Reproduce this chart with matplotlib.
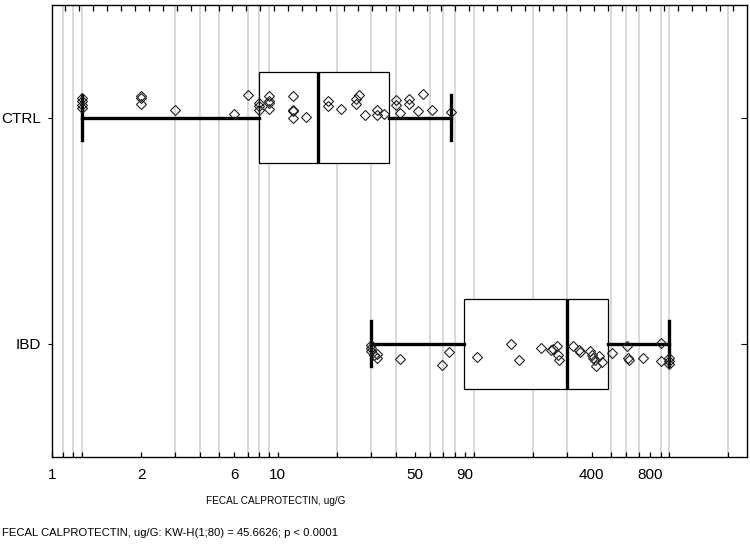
import numpy as np
import matplotlib
matplotlib.use("Agg")
import matplotlib.pyplot as plt
from matplotlib.ticker import LogLocator, NullFormatter, FixedLocator

# groups and box statistics
groups = ['CTRL', 'IBD']
q1 = [8, 89]
med = [16, 300]
q3 = [37, 483]
whis_lo = [1.0, 30]
whis_hi = [77, 1000]

# raw points: value, vertical jitter (in category units)
ctrl_vals = [1, 1, 1, 1, 2, 2, 2, 3, 6, 7, 8, 8, 8, 9, 9, 9, 9, 12, 12, 12, 12,
             14, 18, 18, 21, 25, 25, 26, 28, 32, 32, 35, 40, 40, 42, 47, 47, 52,
             55, 61, 77]
ctrl_jit = [-0.087, -0.072, -0.058, -0.044, -0.097, -0.087, -0.062, -0.035,
            -0.016, -0.099, -0.066, -0.050, -0.035, -0.094, -0.072, -0.065,
            -0.038, -0.094, -0.035, -0.028, 0.001, -0.003, -0.072, -0.050,
            -0.040, -0.083, -0.061, -0.102, -0.010, -0.032, -0.013, -0.018,
            -0.077, -0.058, -0.021, -0.083, -0.061, -0.028, -0.105, -0.035,
            -0.025]
ibd_vals = [30, 30, 30, 31, 32, 32, 42, 69, 75, 104, 155, 170, 222, 247, 255,
            268, 271, 274, 323, 345, 350, 395, 400, 405, 415, 420, 436, 454,
            509, 610, 616, 620, 731, 905, 910, 995, 1000, 1000]
ibd_jit = [0.004, 0.018, 0.031, 0.049, 0.062, 0.046, 0.068, 0.096, 0.037,
           0.059, 0.0, 0.072, 0.019, 0.027, 0.022, 0.008, 0.049, 0.074, 0.008,
           0.027, 0.037, 0.031, 0.049, 0.063, 0.071, 0.100, 0.056, 0.081,
           0.041, 0.008, 0.063, 0.071, 0.063, -0.003, 0.078, 0.062, 0.078,
           0.090]

xtick_pos = [0.7, 2, 6, 10, 50, 90, 400, 800]
xtick_lab = ['1', '2', '6', '10', '50', '90', '400', '800']
top_ticks = np.arange(50, 2500, 50)

plt.rcParams['font.family'] = ['Liberation Sans', 'DejaVu Sans']

fig = plt.figure(figsize=(7.5, 5.52), dpi=100)
rect = [0.069, 0.1726, 0.9275, 0.8189]
ax = fig.add_axes(rect)

stats = []
for i, g in enumerate(groups):
    stats.append(dict(label=g, med=med[i], q1=q1[i], q3=q3[i],
                      whislo=whis_lo[i], whishi=whis_hi[i], fliers=[]))

ax.bxp(stats, positions=[0, 1], vert=False, widths=0.4, capwidths=0.2,
       patch_artist=True, showfliers=False,
       boxprops=dict(facecolor='white', edgecolor='black', linewidth=0.9),
       medianprops=dict(color='black', linewidth=2.4),
       whiskerprops=dict(color='black', linewidth=2.4),
       capprops=dict(color='black', linewidth=2.4), zorder=2)

ax.plot(ctrl_vals, np.array(ctrl_jit) + 0, 'D', ms=5, mfc='none', mec='#222222',
        mew=0.8, zorder=4)
ax.plot(ibd_vals, np.array(ibd_jit) + 1, 'D', ms=5, mfc='none', mec='#222222',
        mew=0.8, zorder=4)

ax.set_xscale('log')
ax.set_xlim(0.7, 2500)
ax.set_ylim(1.5, -0.5)
ax.set_yticks([0, 1])
ax.set_yticklabels(groups, fontsize=11)

ax.xaxis.set_major_locator(FixedLocator(xtick_pos))
ax.set_xticklabels(xtick_lab, fontsize=11)
ax.xaxis.set_minor_locator(LogLocator(base=10, subs=np.arange(1, 10), numticks=20))
ax.xaxis.set_minor_formatter(NullFormatter())
ax.grid(False)
ax.grid(True, which='minor', axis='x', color='#cfcfcf', linewidth=1.1, zorder=0)
ax.set_axisbelow(True)

ax.tick_params(axis='x', which='both', direction='in', length=3.5, width=0.9,
               pad=8, top=False, color='black')
ax.tick_params(axis='y', which='both', direction='out', length=3, width=0.8,
               pad=5, left=True, right=False)
for s in ax.spines.values():
    s.set_linewidth(1.0)

# overlay axes: evenly spaced top ticks + inward right ticks
axt = fig.add_axes(rect, frameon=False)
axt.set_xlim(0.7, 2500)
axt.set_ylim(ax.get_ylim())
axt.set_xticks(top_ticks)
axt.set_yticks([0, 1])
axt.tick_params(axis='x', bottom=False, top=True, labelbottom=False,
                labeltop=False, direction='in', length=4, width=0.9)
axt.tick_params(axis='y', left=False, right=True, labelleft=False,
                labelright=False, direction='in', length=4, width=0.8)

ax.set_xlabel('FECAL CALPROTECTIN, ug/G', fontsize=7.2)
ax.xaxis.set_label_coords(0.322, -0.098)
ax.xaxis.label.set_verticalalignment('center')

fig.text(0.002, 0.034, 'FECAL CALPROTECTIN, ug/G: KW-H(1;80) = 45.6626; p < 0.0001',
         fontsize=8.1, va='center', ha='left')

fig.savefig('out.png', dpi=100)
